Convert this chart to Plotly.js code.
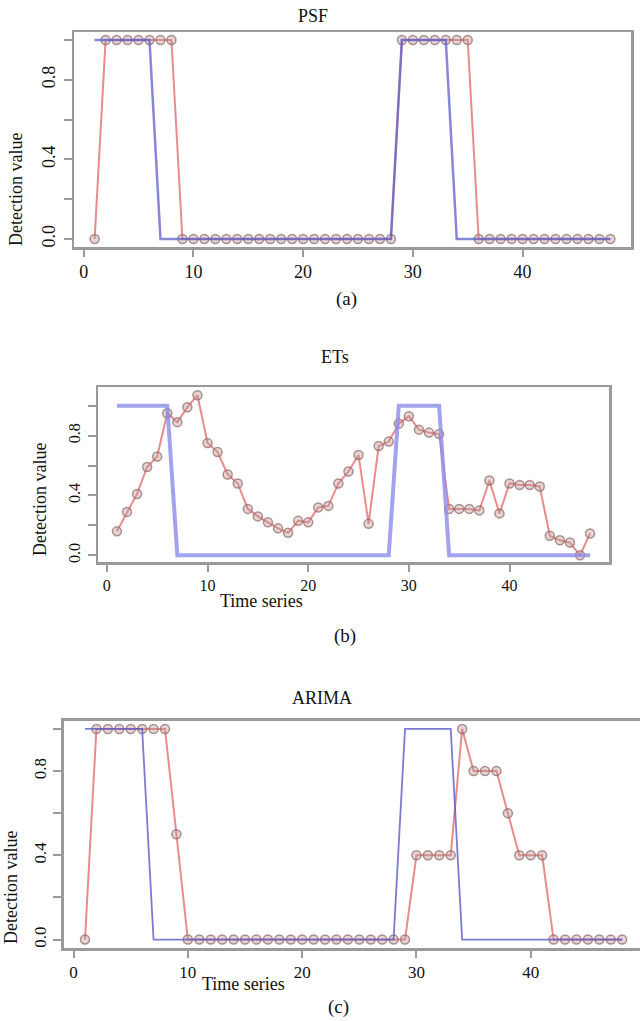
<!DOCTYPE html>
<html>
<head>
<meta charset="utf-8">
<script src="https://cdn.plot.ly/plotly-3.0.1.min.js"></script>
<style>
  html, body { margin: 0; padding: 0; background: #ffffff; }
  #chart { width: 640px; height: 1021px; }
</style>
</head>
<body>
<div id="chart"></div>
<script>
// ---------------- data ----------------
const timeSeries = [1,2,3,4,5,6,7,8,9,10,11,12,13,14,15,16,17,18,19,20,21,22,23,24,
                    25,26,27,28,29,30,31,32,33,34,35,36,37,38,39,40,41,42,43,44,45,46,47,48];

// true anomaly labels (blue line)
const actualLabel = [1,1,1,1,1,1,0,0,0,0,0,0,0,0,0,0,0,0,0,0,0,0,0,0,
                     0,0,0,0,1,1,1,1,1,0,0,0,0,0,0,0,0,0,0,0,0,0,0,0];

// detection values (red line with markers)
const psfDetection = [0,1,1,1,1,1,1,1,0,0,0,0,0,0,0,0,0,0,0,0,0,0,0,0,
                      0,0,0,0,1,1,1,1,1,1,1,0,0,0,0,0,0,0,0,0,0,0,0,0];

const etsDetection = [0.16,0.29,0.41,0.59,0.66,0.95,0.89,0.99,1.07,0.75,0.69,0.54,
                      0.48,0.31,0.26,0.22,0.18,0.15,0.23,0.22,0.32,0.33,0.48,0.56,
                      0.67,0.21,0.73,0.76,0.88,0.93,0.84,0.82,0.81,0.31,0.31,0.31,
                      0.30,0.50,0.28,0.48,0.47,0.47,0.46,0.13,0.10,0.085,0.0,0.146];

const arimaDetection = [0,1,1,1,1,1,1,1,0.5,0,0,0,0,0,0,0,0,0,0,0,0,0,0,0,
                        0,0,0,0,0,0.4,0.4,0.4,0.4,1.0,0.8,0.8,0.8,0.6,0.4,0.4,0.4,0,
                        0,0,0,0,0,0];

const panelTitles = ["PSF", "ETs", "ARIMA"];
const panelLabels = ["(a)", "(b)", "(c)"];
const yAxisTitle = "Detection value";
const xAxisTitle = "Time series";

const xTickVals = [0, 10, 20, 30, 40];
const xTickText = ["0", "10", "20", "30", "40"];
const yTickVals = [0, 0.2, 0.4, 0.6, 0.8, 1.0];
const yTickText = ["0.0", "", "0.4", "", "0.8", ""];

// ---------------- style ----------------
const FONT = "'Liberation Serif', 'Times New Roman', serif";
const GREY = "#9a9a9a";
const redLine = "rgba(228,110,110,0.8)";
const markerStyle = {symbol: "circle", size: 9,
                     color: "rgba(190,150,150,0.4)",
                     line: {color: "rgba(145,110,110,0.75)", width: 1.5}};

function detTrace(y, xa, ya) {
  return {x: timeSeries, y: y, xaxis: xa, yaxis: ya, type: "scatter",
          mode: "lines+markers", line: {color: redLine, width: 2},
          marker: markerStyle, hoverinfo: "skip"};
}
function trueTrace(xa, ya, color, width) {
  return {x: timeSeries, y: actualLabel, xaxis: xa, yaxis: ya, type: "scatter",
          mode: "lines", line: {color: color, width: width}, hoverinfo: "skip"};
}

const traces = [
  detTrace(psfDetection, "x", "y"),
  trueTrace("x", "y", "rgba(95,95,205,0.75)", 2.5),
  detTrace(etsDetection, "x2", "y2"),
  trueTrace("x2", "y2", "rgba(140,140,232,0.8)", 4),
  detTrace(arimaDetection, "x3", "y3"),
  trueTrace("x3", "y3", "rgba(90,90,200,0.8)", 1.8)
];

function xAx(domain, range, anchor, fs) {
  return {domain: domain, range: range, anchor: anchor,
          tickmode: "array", tickvals: xTickVals, ticktext: xTickText,
          ticks: "outside", ticklen: 7, tickwidth: 2, tickcolor: GREY,
          showline: true, linecolor: GREY, linewidth: 2.5, mirror: true,
          showgrid: false, zeroline: false, fixedrange: true,
          tickfont: {family: FONT, size: fs, color: "#111"}};
}
function yAx(domain, range, anchor, fs, mirror, standoff) {
  return {domain: domain, range: range, anchor: anchor,
          tickmode: "array", tickvals: yTickVals, ticktext: yTickText,
          tickangle: -90, ticklabelstandoff: standoff,
          ticks: "outside", ticklen: 8, tickwidth: 2, tickcolor: GREY,
          showline: true, linecolor: GREY, linewidth: 2.5, mirror: mirror,
          showgrid: false, zeroline: false, fixedrange: true,
          tickfont: {family: FONT, size: fs, color: "#111"}};
}

const W = 640, H = 1021;
const px = v => v / W;
const py = v => 1 - v / H;

function ann(text, x, y, size, angle) {
  return {text: text, x: px(x), y: py(y), xref: "paper", yref: "paper",
          showarrow: false, xanchor: "center", yanchor: "middle",
          textangle: angle || 0, font: {family: FONT, size: size, color: "#111"}};
}

const layout = {
  width: W, height: H,
  margin: {l: 0, r: 0, t: 0, b: 0},
  paper_bgcolor: "#ffffff", plot_bgcolor: "#ffffff",
  showlegend: false,
  xaxis:  xAx([px(74), px(631)], [-0.88, 49.88], "y", 18),
  yaxis:  yAx([py(247), py(32)], [-0.04, 1.04], "x", 18, true, 1),
  xaxis2: xAx([px(98), px(609)], [-0.88, 49.88], "y2", 16),
  yaxis2: yAx([py(562), py(387)], [-0.045, 1.125], "x2", 16, true, 1),
  xaxis3: xAx([px(63.5), 1], [-0.88, 49.56], "y3", 17),
  yaxis3: yAx([py(948), py(720.5)], [-0.04, 1.04], "x3", 17, false, 0),
  annotations: [
    ann(panelTitles[0], 313, 16, 18),
    ann(panelTitles[1], 335, 357, 18),
    ann(panelTitles[2], 322, 698, 18),
    ann(panelLabels[0], 346, 299, 19),
    ann(panelLabels[1], 345, 636, 19),
    ann(panelLabels[2], 338, 1007, 19),
    ann(yAxisTitle, 16, 190, 18, -90),
    ann(yAxisTitle, 40, 500, 18, -90),
    ann(yAxisTitle, 11, 888, 18, -90),
    ann(xAxisTitle, 261, 601, 18),
    ann(xAxisTitle, 243, 984, 18)
  ]
};

Plotly.newPlot("chart", traces, layout, {staticPlot: true, displayModeBar: false});
</script>
</body>
</html>
